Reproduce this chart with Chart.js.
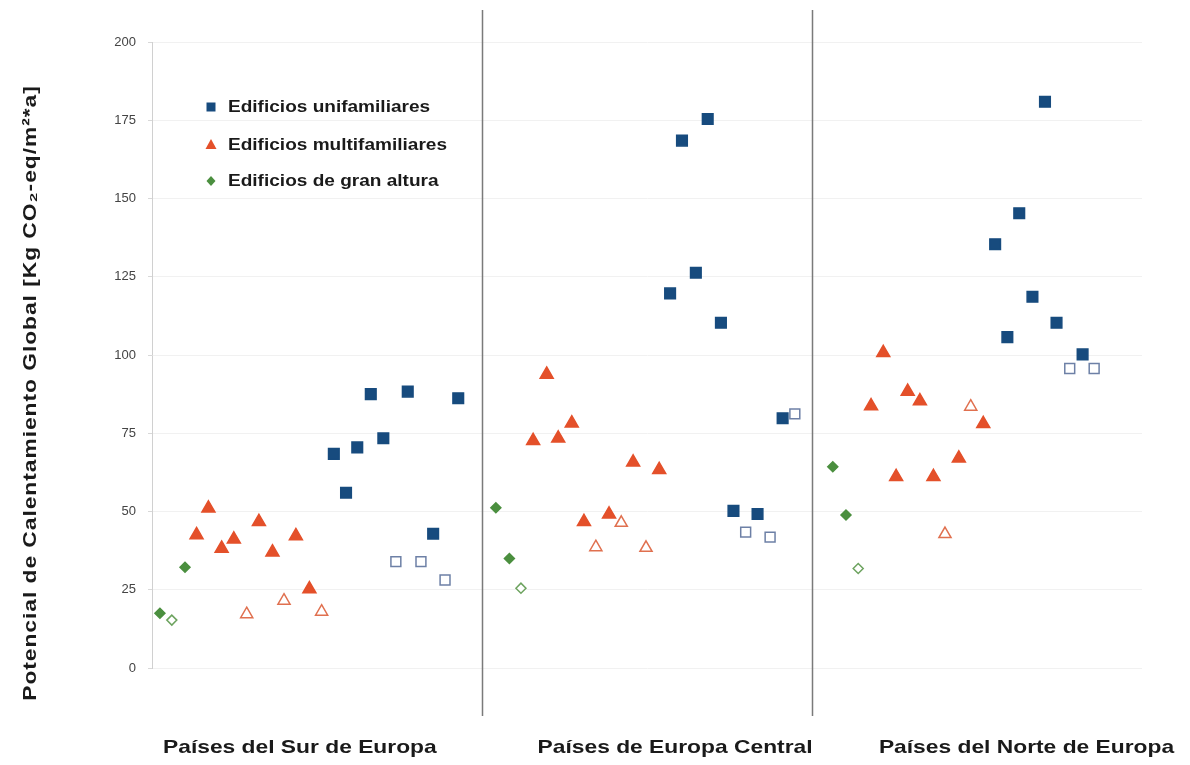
<!DOCTYPE html>
<html>
<head>
<meta charset="utf-8">
<script src="https://cdn.jsdelivr.net/npm/chart.js@4.4.0/dist/chart.umd.min.js"></script>
<style>
  html, body { margin: 0; padding: 0; background: #fff; }
  #wrap { position: relative; width: 1190px; height: 765px; }
</style>
</head>
<body>
<div id="wrap"><canvas id="myChart" width="1190" height="765"></canvas></div>
<script>
// regions on the x axis (0-1 sur, 1-2 central, 2-3 norte)
var categories = ["Países del Sur de Europa", "Países de Europa Central", "Países del Norte de Europa"];
var categoryPos = [0.448, 1.585, 2.65];
var yTicks = [0, 25, 50, 75, 100, 125, 150, 175, 200];

var seriesNames = ["Edificios unifamiliares", "Edificios multifamiliares", "Edificios de gran altura"];
var yTitle = "Potencial de Calentamiento Global [Kg CO\u2082-eq/m\u00B2*a]";

// Edificios unifamiliares
var uniFilledX = [0.551, 0.588, 0.622, 0.663, 0.701, 0.775, 0.852, 0.928,
    1.570, 1.606, 1.648, 1.684, 1.724, 1.762, 1.835, 1.911,
    2.555, 2.592, 2.628, 2.668, 2.706, 2.741, 2.820];
var uniFilledY = [68.4, 56, 70.5, 87.5, 73.4, 88.3, 42.9, 86.2,
    119.7, 168.5, 126.3, 175.4, 110.3, 50.2, 49.2, 79.8,
    135.4, 105.7, 145.3, 118.6, 180.9, 110.3, 100.2];
var uniOpenX = [0.739, 0.815, 0.888, 1.799, 1.873, 1.948, 2.781, 2.855];
var uniOpenY = [34, 34, 28.1, 43.4, 41.8, 81.2, 95.7, 95.7];

// Edificios multifamiliares
var multiFilledX = [0.135, 0.171, 0.211, 0.248, 0.324, 0.365, 0.436, 0.477,
    1.155, 1.196, 1.231, 1.272, 1.309, 1.385, 1.458, 1.537,
    2.179, 2.216, 2.255, 2.290, 2.327, 2.368, 2.445, 2.519];
var multiFilledY = [42.5, 51, 38.2, 41.1, 46.7, 37, 42.2, 25.2,
    72.6, 93.8, 73.4, 78.2, 46.7, 49.1, 65.7, 63.3,
    83.7, 100.7, 61.1, 88.3, 85.3, 61.1, 67, 78];
var multiOpenX = [0.287, 0.400, 0.514, 1.345, 1.422, 1.497, 2.403, 2.481];
var multiOpenY = [17.2, 21.5, 18, 38.6, 46.4, 38.4, 42.8, 83.5];

// Edificios de gran altura
var altaFilledX = [0.024, 0.100, 1.042, 1.083, 2.063, 2.103];
var altaFilledY = [17.5, 32.2, 51.2, 35, 64.3, 48.9];
var altaOpenX = [0.060, 1.118, 2.140];
var altaOpenY = [15.3, 25.5, 31.8];

var blue = "#174b7e";
var orange = "#e4502a";
var green = "#4b8f3f";
var font = "'Liberation Sans', Arial, sans-serif";

function points(xs, ys) {
    var out = [];
    for (var i = 0; i < xs.length; i++) {
        out.push({x: xs[i], y: ys[i]});
    }
    return out;
}

function dataset(xs, ys, style, radius, fill, border) {
    return {
        data: points(xs, ys),
        pointStyle: style,
        pointRadius: radius,
        pointHoverRadius: radius,
        pointBackgroundColor: fill,
        pointBorderColor: border,
        pointBorderWidth: 1.5,
        showLine: false
    };
}

// the source font is a wide helvetica, so stretch the text a little
function wideText(ctx, text, x, y, sx) {
    ctx.save();
    ctx.translate(x, y);
    ctx.scale(sx, 1);
    ctx.fillText(text, 0, 0);
    ctx.restore();
}

// divider lines, legend, category labels and y title
var extras = {
    id: 'extras',
    afterDraw: function (chart) {
        var ctx = chart.ctx;
        var xs = chart.scales.x;
        ctx.save();
        ctx.strokeStyle = "#7a7a7a";
        ctx.lineWidth = 1.5;
        [1, 2].forEach(function (v) {
            var px = Math.round(xs.getPixelForValue(v)) + 0.5;
            ctx.beginPath();
            ctx.moveTo(px, 10);
            ctx.lineTo(px, 716);
            ctx.stroke();
        });

        // legend
        var rows = [107, 145, 181];
        ctx.font = "bold 17px " + font;
        ctx.textBaseline = "middle";
        for (var i = 0; i < seriesNames.length; i++) {
            var y = rows[i];
            var mx = 211;
            ctx.fillStyle = [blue, orange, green][i];
            ctx.beginPath();
            if (i == 0) {
                ctx.rect(mx - 4.5, y - 4.5, 9, 9);
            } else if (i == 1) {
                ctx.moveTo(mx, y - 6);
                ctx.lineTo(mx + 5.5, y + 4);
                ctx.lineTo(mx - 5.5, y + 4);
                ctx.closePath();
            } else {
                ctx.moveTo(mx, y - 5);
                ctx.lineTo(mx + 4.5, y);
                ctx.lineTo(mx, y + 5);
                ctx.lineTo(mx - 4.5, y);
                ctx.closePath();
            }
            ctx.fill();
            ctx.fillStyle = "#1a1a1a";
            ctx.textAlign = "left";
            wideText(ctx, seriesNames[i], 228, y, 1.12);
        }

        // category labels under each region
        ctx.font = "bold 19px " + font;
        ctx.textAlign = "center";
        for (var j = 0; j < categories.length; j++) {
            wideText(ctx, categories[j], xs.getPixelForValue(categoryPos[j]), 748, 1.2);
        }

        // y axis title
        ctx.translate(31, 393);
        ctx.rotate(-Math.PI / 2);
        ctx.font = "bold 19px " + font;
        ctx.letterSpacing = "0.8px";
        wideText(ctx, yTitle, 0, 0, 1.2);
        ctx.restore();
    }
};

var ctx = document.getElementById('myChart').getContext('2d');
var myChart = new Chart(ctx, {
    type: 'scatter',
    data: {
        datasets: [
            dataset(uniFilledX, uniFilledY, 'rect', 7.5, blue, blue),
            dataset(uniOpenX, uniOpenY, 'rect', 7, "#ffffff", "#6d80a6"),
            dataset(multiFilledX, multiFilledY, 'triangle', 7.5, orange, orange),
            dataset(multiOpenX, multiOpenY, 'triangle', 7, "#ffffff", "#e0704f"),
            dataset(altaFilledX, altaFilledY, 'rectRot', 5, green, green),
            dataset(altaOpenX, altaOpenY, 'rectRot', 5, "#ffffff", "#6da35f")
        ]
    },
    options: {
        responsive: false,
        animation: false,
        layout: {padding: {top: 42, right: 48, bottom: 0, left: 0}},
        plugins: {
            legend: {display: false},
            tooltip: {enabled: false}
        },
        scales: {
            x: {
                type: 'linear',
                min: 0,
                max: 3,
                grid: {display: false, drawTicks: false},
                border: {display: false},
                ticks: {display: false},
                afterFit: function (axis) {
                    axis.height = 97;
                    axis.paddingLeft = 0;
                    axis.paddingRight = 0;
                }
            },
            y: {
                min: 0,
                max: 200,
                afterBuildTicks: function (axis) {
                    axis.ticks = yTicks.map(function (v) { return {value: v}; });
                },
                afterFit: function (axis) { axis.width = 152; },
                grid: {color: "#f1f1f1", tickLength: 4, tickColor: "#d8d8d8"},
                border: {display: true, color: "#d0d0d0"},
                ticks: {
                    padding: 12,
                    color: "#444444",
                    font: {family: font, size: 13}
                }
            }
        }
    },
    plugins: [extras]
});
</script>
</body>
</html>
